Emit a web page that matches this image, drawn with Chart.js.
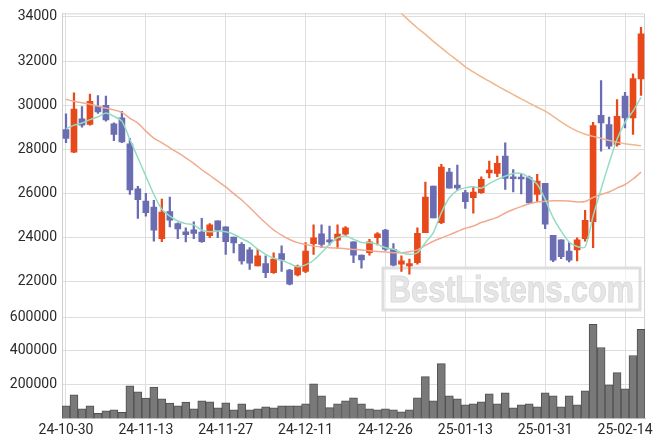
<!DOCTYPE html>
<html>
<head>
<meta charset="utf-8">
<script src="https://cdn.jsdelivr.net/npm/chart.js@4/dist/chart.umd.min.js"></script>
<style>
html, body { margin: 0; padding: 0; background: #ffffff; }
#wrap { width: 663px; height: 446px; }
</style>
</head>
<body>
<div id="wrap"><canvas id="chart" width="663" height="446"></canvas></div>
<script>
"use strict";

var labels = [
    "24-10-30", "24-10-31", "24-11-01", "24-11-04", "24-11-05", "24-11-06", "24-11-07", "24-11-08", "24-11-11", "24-11-12",
    "24-11-13", "24-11-14", "24-11-15", "24-11-18", "24-11-19", "24-11-20", "24-11-21", "24-11-22", "24-11-25", "24-11-26",
    "24-11-27", "24-11-28", "24-11-29", "24-12-02", "24-12-03", "24-12-04", "24-12-05", "24-12-06", "24-12-09", "24-12-10",
    "24-12-11", "24-12-12", "24-12-13", "24-12-16", "24-12-17", "24-12-18", "24-12-19", "24-12-20", "24-12-23", "24-12-24",
    "24-12-26", "24-12-27", "24-12-30", "25-01-02", "25-01-03", "25-01-06", "25-01-07", "25-01-08", "25-01-09", "25-01-10",
    "25-01-13", "25-01-14", "25-01-15", "25-01-16", "25-01-17", "25-01-20", "25-01-21", "25-01-22", "25-01-23", "25-01-24",
    "25-01-31", "25-02-03", "25-02-04", "25-02-05", "25-02-06", "25-02-07", "25-02-10", "25-02-11", "25-02-12", "25-02-13",
    "25-02-14", "25-02-17", "25-02-18"
];

var opens = [
    28900, 27880, 29380, 29130, 29940, 30000, 29160, 29430, 28250, 26220,
    25660, 25390, 23960, 25180, 24640, 24270, 24360, 24260, 24090, 24760,
    24490, 24030, 23700, 23450, 22720, 22830, 22420, 23280, 22530, 22320,
    22470, 23730, 24180, 23900, 23890, 24160, 23810, 23220, 23320, 24000,
    24350, 23480, 22800, 22720, 22870, 24230, 26340, 24680, 26970, 26380,
    26040, 25810, 26040, 26940, 26910, 27700, 26750, 26720, 26720, 25960,
    26460, 24110, 23900, 23400, 23450, 23960, 24730, 29540, 29130, 28220,
    30410, 29430, 31190
];
var highs = [
    29610, 30560, 29940, 30510, 30440, 30410, 29200, 29730, 28500, 26330,
    26010, 25690, 25750, 25840, 24680, 24450, 24720, 24880, 24640, 24760,
    24490, 24030, 23780, 23550, 23480, 23180, 23320, 23630, 22570, 22760,
    23780, 24580, 24580, 24530, 24580, 24500, 23810, 23220, 23930, 24230,
    24380, 23730, 23180, 23030, 24450, 26520, 26340, 27320, 27140, 27290,
    26150, 26290, 26760, 27470, 27700, 28300, 27090, 26900, 26790, 26870,
    26460, 24110, 23900, 23780, 24000, 25240, 29230, 31120, 29470, 30260,
    30590, 31420, 33530
];
var lows = [
    28300, 27850, 29010, 29100, 29630, 29280, 28400, 28300, 25960, 24880,
    24980, 23850, 23820, 24490, 23960, 23810, 23960, 23790, 24000, 24000,
    23250, 23310, 22800, 22570, 22720, 22190, 22380, 22470, 21860, 22270,
    22420, 23250, 23550, 23660, 23520, 24110, 22870, 22620, 23210, 23670,
    23430, 22720, 22470, 22350, 22800, 24230, 24900, 24640, 26240, 26150,
    25330, 25110, 26010, 26710, 26760, 26190, 26070, 25990, 25540, 25620,
    24410, 22920, 23050, 22900, 22950, 23850, 23550, 27920, 28030, 28150,
    28970, 28680, 30450
];
var closes = [
    28500, 29830, 29100, 30180, 29700, 29340, 28680, 28340, 26170, 25720,
    25130, 24340, 25160, 24800, 24400, 24140, 24200, 23820, 24580, 24340,
    23820, 23760, 22950, 22850, 23180, 22420, 23030, 22990, 21900, 22690,
    23400, 24000, 23700, 23810, 24160, 24450, 23210, 22990, 23820, 24180,
    23480, 22760, 22950, 22830, 24200, 25840, 24900, 27200, 26240, 26260,
    25630, 26070, 26640, 27060, 27370, 26690, 26670, 26660, 25580, 26570,
    24610, 22980, 23140, 22980, 23900, 24790, 29080, 29200, 28150, 29500,
    29430, 31210, 33240
];
var volumes = [
    74600, 140300, 56700, 74600, 31000, 44800, 50700, 37000, 194000, 158200,
    120600, 186300, 116400, 90700, 74600, 96700, 56700, 104500, 98500, 62700,
    92500, 50700, 86600, 50700, 56700, 68700, 62700, 74600, 74600, 74600,
    86600, 206000, 134300, 64500, 86600, 104500, 122400, 86600, 56700, 50700,
    56700, 50700, 38800, 50700, 122400, 247800, 104500, 325400, 134300, 116400,
    80600, 86600, 98500, 146300, 86600, 152200, 62700, 80600, 86600, 68700,
    152200, 134300, 68700, 134300, 80600, 164200, 558200, 420900, 200000, 271600,
    176100, 373100, 528300
];
var ma5 = [
    28930, 29100, 29200, 29350, 29470, 29650, 29500, 29280, 28450, 27620,
    26790, 25960, 25290, 24980, 24760, 24640, 24580, 24340, 24270, 24300,
    24270, 24160, 23960, 23780, 23480, 23250, 23070, 22980, 22830, 22690,
    22770, 22980, 23330, 23700, 24000, 24080, 23930, 23780, 23780, 23700,
    23550, 23480, 23320, 23250, 23320, 23780, 24230, 25130, 25810, 26150,
    26260, 26310, 26240, 26450, 26640, 26790, 26910, 26910, 26720, 26420,
    25740, 24910, 24300, 23810, 23600, 23580, 24980, 26200, 27380, 28460,
    29230, 29730, 30360
];
var ma20 = [
    30270, 30180, 30110, 30050, 29960, 29870, 29790, 29680, 29410, 29190,
    28830, 28510, 28300, 28070, 27850, 27620, 27370, 27080, 26830, 26560,
    26300, 26000, 25710, 25370, 25010, 24670, 24350, 24120, 23920, 23780,
    23700, 23620, 23580, 23550, 23530, 23500, 23470, 23450, 23410, 23380,
    23350, 23320, 23320, 23370, 23450, 23650, 23840, 23990, 24130, 24280,
    24430, 24530, 24690, 24800, 24920, 25120, 25280, 25410, 25540, 25620,
    25650, 25670, 25670, 25660, 25620, 25640, 25820, 25960, 26070, 26250,
    26410, 26660, 26970
];
var ma60 = [
    null, null, null, null, null, null, null, null, null, null,
    null, null, null, null, null, null, null, null, null, null,
    null, null, null, null, null, null, null, null, null, null,
    null, null, null, null, null, null, null, null, null, 35170,
    34840, 34510, 34160, 33820, 33500, 33210, 32890, 32600, 32310, 32030,
    31740, 31510, 31290, 31090, 30880, 30680, 30480, 30290, 30100, 29910,
    29730, 29500, 29250, 29020, 28830, 28690, 28590, 28500, 28410, 28330,
    28260, 28210, 28170
];
var priceTicks = [22000, 24000, 26000, 28000, 30000, 32000, 34000];
var volumeTicks = [200000, 400000, 600000];
var WATERMARK = "BestListens.com";

var UP_COLOR = "#e8491b";
var DOWN_COLOR = "#6b6db2";
var TICK_FONT = { family: "Roboto, 'Liberation Sans', sans-serif", size: 14 };

var candleColors = opens.map(function(o, i)
{
    return closes[i] >= o ? UP_COLOR : DOWN_COLOR;
});
var wickData = lows.map(function(l, i)
{
    return [l, highs[i]];
});
var bodyData = opens.map(function(o, i)
{
    return [o, closes[i]];
});

var framePlugin =
{
    id: "frame",
    beforeDatasetsDraw: function(chart)
    {
        var ctx = chart.ctx;
        var a = chart.chartArea;
        ctx.save();
        ctx.strokeStyle = "#d4d4d4";
        ctx.lineWidth = 1;
        ctx.beginPath();
        ctx.moveTo(a.left, a.top + 0.5);
        ctx.lineTo(a.right - 0.5, a.top + 0.5);
        ctx.lineTo(a.right - 0.5, a.bottom);
        ctx.stroke();

        // watermark box
        var bx = 383, by = 268, bw = 257, bh = 42;
        ctx.fillStyle = "rgba(255,255,255,0.55)";
        ctx.fillRect(bx, by, bw, bh);
        ctx.strokeStyle = "#dedede";
        ctx.lineWidth = 3;
        ctx.strokeRect(bx, by, bw, bh);
        ctx.font = "bold 36px 'Liberation Sans', Arial, sans-serif";
        var w = ctx.measureText(WATERMARK).width;
        ctx.translate(bx + 6, by + 34);
        ctx.scale(245 / w, 1);
        ctx.fillStyle = "#e6e6e6";
        ctx.fillText(WATERMARK, 0, 0);
        ctx.strokeStyle = "#dadada";
        ctx.lineWidth = 1;
        ctx.strokeText(WATERMARK, 0, 0);
        ctx.restore();
    }
};

function fixedTicks(values)
{
    return function(scale)
    {
        scale.ticks = values.map(function(v)
        {
            return { value: v };
        });
    };
}

function plainNumber(value)
{
    return String(value);
}

var ctx = document.getElementById("chart").getContext("2d");
var chart = new Chart(ctx,
{
    type: "bar",
    data:
    {
        labels: labels,
        datasets: [
            {
                type: "line", label: "MA5", data: ma5, yAxisID: "y",
                borderColor: "#93dcc4", borderWidth: 1.5, pointRadius: 0, tension: 0.25, order: 0
            },
            {
                type: "line", label: "MA20", data: ma20, yAxisID: "y",
                borderColor: "#f2aa8e", borderWidth: 1.5, pointRadius: 0, tension: 0.25, order: 0
            },
            {
                type: "line", label: "MA60", data: ma60, yAxisID: "y",
                borderColor: "#efb78e", borderWidth: 1.5, pointRadius: 0, tension: 0.25, order: 0
            },
            {
                label: "body", data: bodyData, yAxisID: "y", grouped: false,
                backgroundColor: candleColors, borderWidth: 0, barThickness: 6, minBarLength: 2, order: 1
            },
            {
                label: "wick", data: wickData, yAxisID: "y", grouped: false,
                backgroundColor: candleColors, borderWidth: 0, barThickness: 1.6, order: 2
            },
            {
                label: "volume", data: volumes, yAxisID: "yv", grouped: false,
                backgroundColor: "#797979", borderColor: "#505050", borderWidth: 1,
                categoryPercentage: 1, barPercentage: 1, order: 3
            }
        ]
    },
    options:
    {
        responsive: false,
        animation: false,
        events: [],
        layout: { padding: { top: 12, right: 18, left: 0, bottom: 0 } },
        plugins: { legend: { display: false }, tooltip: { enabled: false } },
        scales:
        {
            x:
            {
                type: "category",
                offset: true,
                grid: { offset: false, color: "#dedede", drawTicks: false },
                border: { color: "#cfcfcf" },
                ticks:
                {
                    autoSkip: false, maxRotation: 0, padding: 4, color: "#2a2a2a", font: TICK_FONT,
                    callback: function(value, index)
                    {
                        return index % 10 === 0 ? labels[index] : null;
                    }
                },
                afterFit: function(scale)
                {
                    scale.height = 27.5;
                }
            },
            yv:
            {
                type: "linear", position: "left", stack: "panes", stackWeight: 1,
                min: 0, max: 600000,
                afterBuildTicks: fixedTicks(volumeTicks),
                grid: { color: "#dedede", drawTicks: false },
                border: { color: "#cfcfcf" },
                ticks: { padding: 5, color: "#2a2a2a", font: TICK_FONT, callback: plainNumber },
                afterFit: function(scale)
                {
                    scale.width = 62;
                }
            },
            y:
            {
                type: "linear", position: "left", stack: "panes", stackWeight: 3,
                min: 20400, max: 34160,
                afterBuildTicks: fixedTicks(priceTicks),
                grid: { color: "#dedede", drawTicks: false },
                border: { color: "#cfcfcf" },
                ticks: { padding: 5, color: "#2a2a2a", font: TICK_FONT, callback: plainNumber },
                afterFit: function(scale)
                {
                    scale.width = 62;
                }
            }
        }
    },
    plugins: [framePlugin]
});
</script>
</body>
</html>
